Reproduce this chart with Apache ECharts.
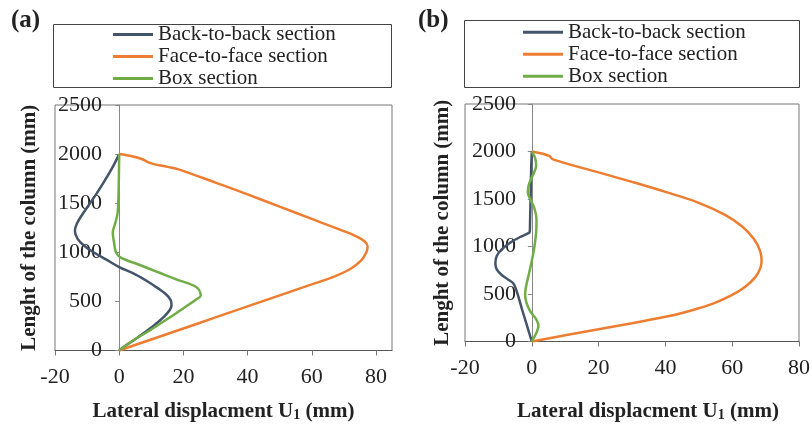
<!DOCTYPE html>
<html>
<head>
<meta charset="utf-8">
<script src="https://cdn.jsdelivr.net/npm/echarts@6/dist/echarts.min.js"></script>
<style>
  html, body { margin: 0; padding: 0; background: #fff; }
  #chart { width: 812px; height: 425px; }
</style>
</head>
<body>
<div id="chart"></div>
<script>
// Lateral displacement (mm) vs. height along the column (mm), [U1, height]
const seriesNames = ['Back-to-back section', 'Face-to-face section', 'Box section'];

// (a)
const aBackToBack = [
  [0, 0], [2, 50], [5, 115], [8, 185], [11, 260], [14, 345], [15.8, 415], [16.3, 460],
  [16, 515], [14.5, 575], [12, 635], [9, 700], [5, 775], [0, 850], [-4, 925], [-8, 1000],
  [-11, 1070], [-13, 1140], [-13.8, 1220], [-13.2, 1290], [-11.8, 1370], [-9.5, 1480],
  [-7, 1600], [-4.5, 1730], [-2, 1870], [0, 2000]
];
const aFaceToFace = [
  [0, 0], [10, 112], [20, 224], [30, 337], [40, 449], [50, 561], [60, 673], [66.6, 748],
  [72, 830], [75.5, 920], [77, 1000], [77.4, 1060], [76.5, 1110], [74, 1160], [70, 1215],
  [60, 1340], [50, 1465], [40, 1590], [30, 1710], [18, 1850], [15, 1870], [10, 1905],
  [7, 1950], [4, 1978], [0, 2000]
];
const aBox = [
  [0, 0], [4, 95], [9.5, 204], [15, 320], [20, 430], [24, 520], [25.4, 561], [24, 646],
  [18, 722], [12, 799], [6, 876], [0.5, 945], [-1, 1000], [-1.6, 1100], [-2, 1200],
  [-1.2, 1300], [-0.5, 1400], [-0.2, 1600], [0, 2000]
];

// (b)
const bBackToBack = [
  [0, 0], [-2.6, 300], [-5.3, 600], [-7, 650], [-9, 700], [-10.5, 760], [-10.9, 820],
  [-10.5, 900], [-9, 970], [-6.5, 1040], [-3.5, 1100], [-1, 1140], [-0.6, 1160],
  [-0.5, 1300], [-0.3, 1600], [-0.2, 1800], [0, 2000]
];
const bFaceToFace = [
  [0, 0], [10, 65], [20, 130], [30, 192], [40, 260], [45, 300], [50, 350], [55, 410],
  [60, 490], [64, 580], [67, 680], [68.5, 780], [68.8, 856], [68.3, 960], [66.5, 1080],
  [63, 1210], [58, 1330], [50, 1460], [40, 1575], [30, 1680], [20, 1780], [6.3, 1917],
  [5.3, 1952], [3.3, 1977], [0, 2000]
];
const bBox = [
  [0, 0], [1.5, 100], [2, 170], [1.2, 240], [-0.5, 320], [-1.7, 420], [-2, 500],
  [-1.6, 600], [-0.8, 720], [0, 850], [0.8, 1000], [1.3, 1150], [1.4, 1280], [0.8, 1400],
  [-0.5, 1500], [-1.2, 1570], [-0.9, 1650], [0.3, 1750], [1.3, 1850], [1, 1930], [0, 2000]
];

const xTickValues = [-20, 0, 20, 40, 60, 80];
const colors = ['#44546A', '#ED7D31', '#70AD47'];

const serif = '"Liberation Serif", "Times New Roman", serif';

function xAxisFor(gridIndex, maxVal, nameGap, namePad) {
  return {
    type: 'value', gridIndex, min: -20, max: maxVal, interval: 20,
    name: 'Lateral displacment U{sub|1} (mm)',
    nameLocation: 'middle', nameGap, nameMoveOverlap: false,
    nameTextStyle: {
      fontFamily: serif, fontSize: 21, fontWeight: 'bold', color: '#222',
      padding: namePad,
      rich: {
        sub: { fontFamily: serif, fontSize: 14, fontWeight: 'bold', color: '#222',
               verticalAlign: 'bottom', lineHeight: 14, padding: [10, 0, 0, 0] }
      }
    },
    axisLine: { show: true, lineStyle: { color: '#555', width: 1 } },
    axisTick: { show: true, length: 5, customValues: xTickValues, lineStyle: { color: '#777' } },
    axisLabel: { customValues: xTickValues, fontFamily: serif, fontSize: 22, color: '#222', margin: 16,
                 formatter: (v) => String(v) },
    splitLine: { show: false }
  };
}

// labels sit just left of the zero line, so their margin is negative
function yAxisFor(gridIndex, nameGap, labelMargin) {
  return {
    type: 'value', gridIndex, min: 0, max: 2500, interval: 500,
    name: 'Lenght of the column (mm)',
    nameLocation: 'middle', nameGap, nameMoveOverlap: false,
    nameTextStyle: { fontFamily: serif, fontSize: 21, fontWeight: 'bold', color: '#222' },
    axisLine: { show: true, onZero: true, lineStyle: { color: '#888', width: 1 } },
    axisTick: { show: true, length: 4, lineStyle: { color: '#888' } },
    axisLabel: { fontFamily: serif, fontSize: 22, color: '#222', margin: labelMargin,
                 formatter: (v) => String(v) },
    splitLine: { show: false }
  };
}

function line(name, data, idx, color) {
  return {
    name, type: 'line', data, xAxisIndex: idx, yAxisIndex: idx,
    showSymbol: false, smooth: 0.35,
    lineStyle: { color, width: 2.5 }, itemStyle: { color },
    emphasis: { disabled: true }
  };
}

function legendFor(left, top) {
  return {
    left, top, orient: 'vertical', padding: 0, itemGap: 0,
    itemWidth: 40, itemHeight: 3, icon: 'rect',
    data: seriesNames,
    textStyle: { fontFamily: serif, fontSize: 21, color: '#222', lineHeight: 22 }
  };
}

const chart = echarts.init(document.getElementById('chart'), null, { renderer: 'canvas' });
chart.setOption({
  animation: false,
  backgroundColor: '#fff',
  title: [
    { text: '(a)', left: 11, top: 8, padding: 0,
      textStyle: { fontFamily: serif, fontSize: 25, fontWeight: 'bold', color: '#222' } },
    { text: '(b)', left: 418, top: 8, padding: 0,
      textStyle: { fontFamily: serif, fontSize: 25, fontWeight: 'bold', color: '#222' } }
  ],
  graphic: [
    { type: 'rect', shape: { x: 53.5, y: 24.5, width: 338, height: 63 },
      style: { fill: 'none', stroke: '#444', lineWidth: 1 }, silent: true },
    { type: 'rect', shape: { x: 464.5, y: 20.5, width: 335, height: 67 },
      style: { fill: 'none', stroke: '#444', lineWidth: 1 }, silent: true }
  ],
  legend: [legendFor(113, 23.5), legendFor(523, 21.3)],
  grid: [
    { left: 55, top: 105, width: 337, height: 245.5, show: true, borderColor: '#777', borderWidth: 1,
      containLabel: false, outerBoundsMode: 'none' },
    { left: 465, top: 104, width: 334, height: 237.5, show: true, borderColor: '#777', borderWidth: 1,
      containLabel: false, outerBoundsMode: 'none' }
  ],
  xAxis: [xAxisFor(0, 85, 51, [0, 0, 0, 0]), xAxisFor(1, 80, 60, [0, 0, 0, 32])],
  yAxis: [yAxisFor(0, 15, -47), yAxisFor(1, 12, -51)],
  series: [
    line(seriesNames[0], aBackToBack, 0, colors[0]),
    line(seriesNames[1], aFaceToFace, 0, colors[1]),
    line(seriesNames[2], aBox, 0, colors[2]),
    line(seriesNames[0], bBackToBack, 1, colors[0]),
    line(seriesNames[1], bFaceToFace, 1, colors[1]),
    line(seriesNames[2], bBox, 1, colors[2])
  ]
});
</script>
</body>
</html>
